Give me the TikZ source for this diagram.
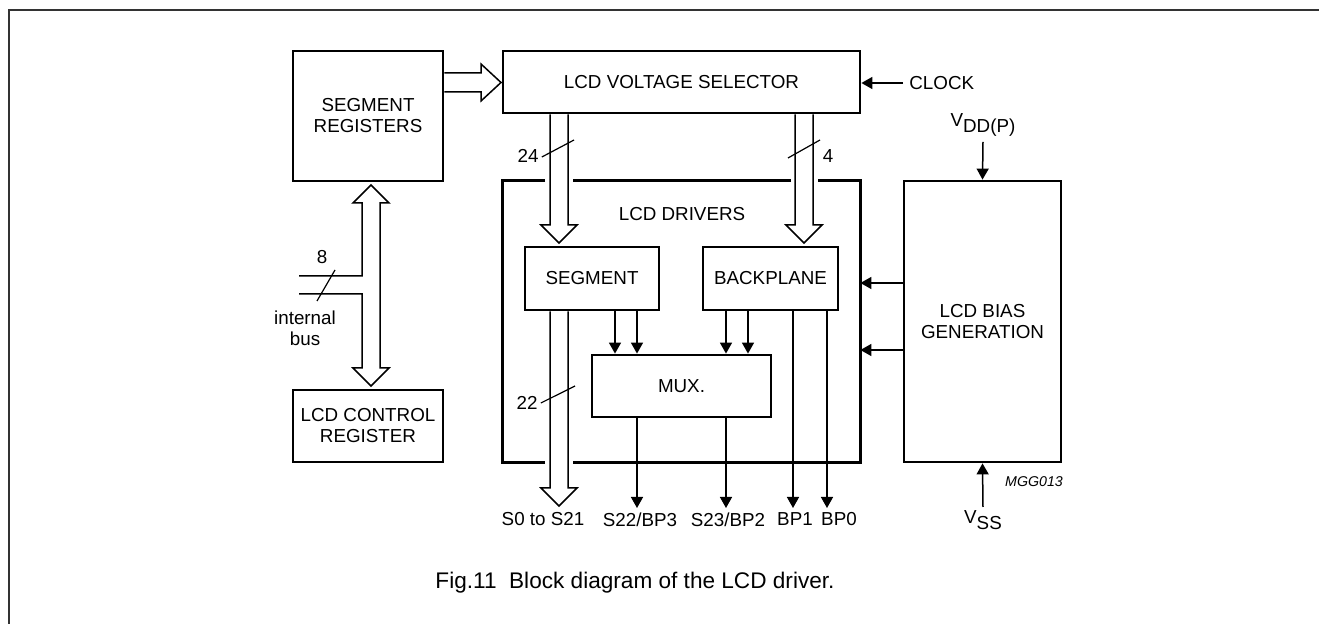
\documentclass[tikz,border=0pt]{standalone}
\usepackage{fontspec}
\setmainfont{Liberation Sans}
\usetikzlibrary{arrows.meta}
\newcommand\dfont{\fontsize{9.4}{10.5}\selectfont}
\tikzset{
  blk/.style = {draw, line width=1.4pt, inner sep=0pt, align=center, font=\dfont},
  sig/.style = {-{Triangle[length=5.5pt, width=6pt]}, line width=0.75pt},
  bus/.style = {line width=0.75pt, line join=miter},
  txt/.style = {font=\dfont, inner sep=0pt, align=center}
}

\begin{document}
\begin{tikzpicture}[
  x=0.5pt, y=-0.5pt,
  pin/.style={txt, anchor=north, inner sep=2pt}
]
  \useasboundingbox (0,0) rectangle (1319,624);
  \draw[line width=1pt, black!80] (9,624) -- (9,10) -- (1319,10);

  % blocks
  \node[blk, minimum width=75pt, minimum height=65pt] (segreg) at (368,116) {SEGMENT\\REGISTERS};
  \node[blk, minimum width=178.5pt, minimum height=31pt] (vsel) at (681.5,82) {LCD VOLTAGE SELECTOR};
  \node[blk, minimum width=75pt, minimum height=36pt] (ctrl) at (368,426) {LCD CONTROL\\REGISTER};
  \node[minimum width=178.5pt, minimum height=140.5pt, inner sep=0pt] (drv) at (681.5,321.5) {};
  \node[blk, minimum width=67pt, minimum height=31.5pt] (segm) at (592,278.5) {SEGMENT};
  \node[blk, minimum width=67.5pt, minimum height=31.5pt] (bkp) at (770.5,278.5) {BACKPLANE};
  \node[blk, minimum width=89.5pt, minimum height=31pt] (mux) at (681.5,386) {MUX.};
  \node[blk, minimum width=78.5pt, minimum height=140.5pt] (bias) at (982.5,321.5) {LCD BIAS\\GENERATION};

  % LCD drivers frame, open where the buses pass
  \draw[line width=1.4pt] (545,0 |- drv.north) -| (drv.south west) -- (545,0 |- drv.south);
  \draw[line width=1.4pt] (573,0 |- drv.south) -| (drv.north east) -- (818,0 |- drv.north);
  \draw[line width=1.4pt] (791,0 |- drv.north) -- (573,0 |- drv.north);
  \node[txt] (drvlbl) at (682,214) {LCD DRIVERS};

  % labels
  \node[txt, anchor=west, inner sep=3pt] (clk) at (903,83) {CLOCK};
  \node[txt] (vdd) at (983,125) {V\raisebox{-0.55ex}{DD(P)}};
  \node[txt] (vss) at (983,520) {V\raisebox{-0.55ex}{SS}};
  \node[txt, font=\fontsize{7.1}{8}\selectfont\itshape] (mgg) at (1034,482) {MGG013};
  \node[txt] (n24) at (528,156) {24};
  \node[txt] (n4) at (828,156) {4};
  \node[txt] (n22) at (527,403) {22};
  \node[txt] (n8) at (322,257) {8};
  \node[txt] (ibus) at (305,328) {internal\\bus};
  \node[pin] (o1) at (543,508) {S0 to S21};
  \node[pin] (o2) at (640,508) {S22/BP3};
  \node[pin] (o3) at (728,508) {S23/BP2};
  \node[pin] (o4) at (795,508) {BP1};
  \node[pin] (o5) at (839,508) {BP0};
  \node[txt, font=\fontsize{11.3}{13}\selectfont] (cap) at (635,583) {Fig.11\ \ Block diagram of the LCD driver.};

  % buses
  \draw[bus] (segreg.east |- 0,73) -- (481,73) -- (481,64) -- (501,82.5) -- (481,101) -- (481,92) -- (segreg.east |- 0,92);
  \draw[bus] (550,0 |- vsel.south) -- (550,225) -- (541,225) -- (559,243) -- (577,225) -- (568,225) -- (568,0 |- vsel.south);
  \draw[bus] (795,0 |- vsel.south) -- (795,225) -- (786,225) -- (804,243) -- (822,225) -- (813,225) -- (813,0 |- vsel.south);
  \draw[bus] (550,0 |- segm.south) -- (550,488) -- (541,488) -- (559,506) -- (577,488) -- (568,488) -- (568,0 |- segm.south);
  \draw[bus] (299,276) -- (362,276) -- (362,203) -- (353,203) -- (371,185) -- (389,203) -- (380,203)
    -- (380,368) -- (389,368) -- (371,386) -- (353,368) -- (362,368) -- (362,294) -- (299,294);

  % bus widths
  \draw[line width=0.6pt] (n24.east) ++(3,1) -- (574,140);
  \draw[line width=0.6pt] (788,158) -- (820,140);
  \draw[line width=0.6pt] (n22.east) ++(3,0) -- (575,386);
  \draw[line width=0.6pt] (317,301) -- (335,270);

  % signals
  \draw[sig] (clk.west) -- (vsel.east |- clk.west);
  \coordinate (vddin) at (983,142);
  \coordinate (vssin) at (983,507);
  \draw[sig] (vddin) -- (bias.north);
  \draw[sig] (vssin) -- (bias.south);
  \draw[sig] (bias.west |- 0,283) -- (drv.east |- 0,283);
  \draw[sig] (bias.west |- 0,350) -- (drv.east |- 0,350);
  \draw[sig] (615,0 |- segm.south) -- (615,0 |- mux.north);
  \draw[sig] (637,0 |- segm.south) -- (637,0 |- mux.north);
  \draw[sig] (726,0 |- bkp.south) -- (726,0 |- mux.north);
  \draw[sig] (748,0 |- bkp.south) -- (748,0 |- mux.north);
  \draw[sig] (637,0 |- mux.south) -- (637,0 |- o2.north);
  \draw[sig] (726,0 |- mux.south) -- (726,0 |- o3.north);
  \draw[sig] (793,0 |- bkp.south) -- (793,0 |- o4.north);
  \draw[sig] (827,0 |- bkp.south) -- (827,0 |- o5.north);
\end{tikzpicture}
\end{document}
